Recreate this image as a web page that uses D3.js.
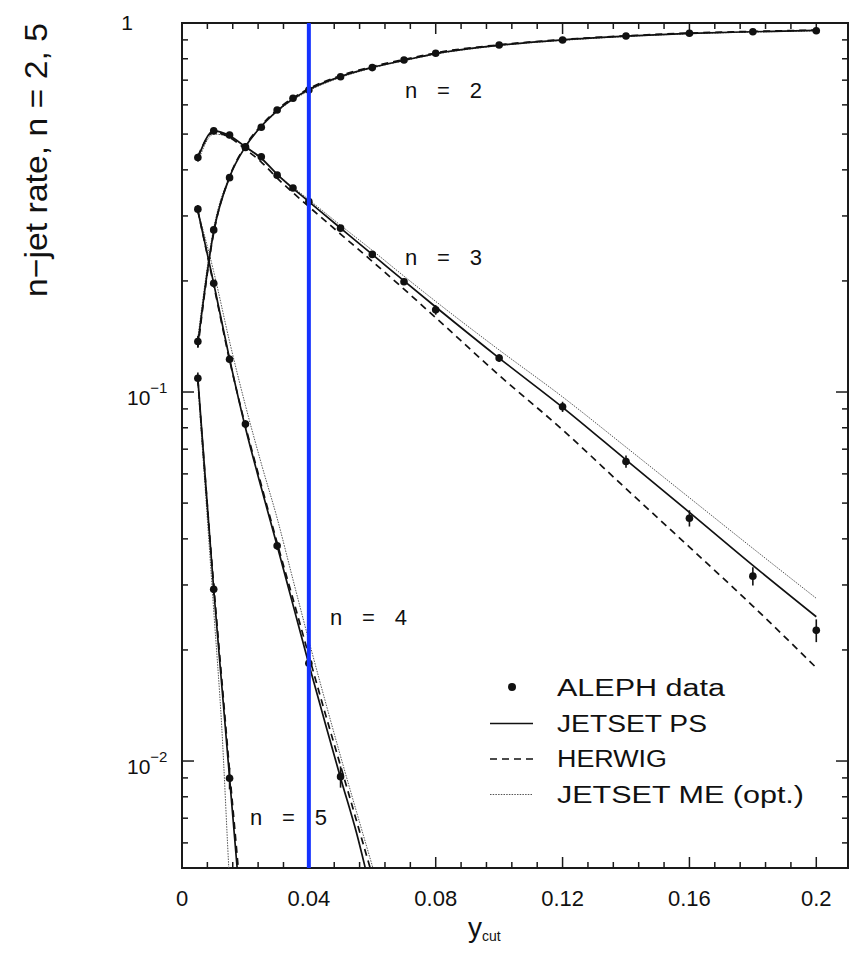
<!DOCTYPE html>
<head>
    <meta charset="utf-8">
    <script src="https://d3js.org/d3.v7.min.js"></script>
    <style>
        body {
            margin: 0;
            background: white;
            font-family: "Liberation Sans", Arial, sans-serif;
        }

        .frame {
            fill: none;
            stroke: #1a1a1a;
            stroke-width: 2px;
        }

        .tick-mark {
            stroke: #1a1a1a;
            stroke-width: 1.5px;
        }

        .model {
            fill: none;
        }

        .jetset-ps {
            stroke: #111;
            stroke-width: 1.7px;
        }

        .herwig {
            stroke: #111;
            stroke-width: 1.7px;
            stroke-dasharray: 7,5;
        }

        .jetset-me {
            stroke: #555;
            stroke-width: 1px;
            stroke-dasharray: 1.5,1.2;
        }

        .aleph {
            fill: #111;
        }

        .err {
            stroke: #111;
            stroke-width: 1.6px;
        }

        text {
            fill: #111;
        }
    </style>
</head>

<body>
<script>
    // ALEPH data points (y_cut, rate, error) for each jet multiplicity
    var xData23 = [0.005, 0.01, 0.015, 0.02, 0.025, 0.03, 0.035, 0.04, 0.05, 0.06, 0.07, 0.08, 0.1, 0.12, 0.14, 0.16, 0.18, 0.2];
    var aleph2 = [0.137, 0.275, 0.381, 0.46, 0.522, 0.581, 0.625, 0.658, 0.715, 0.757, 0.794, 0.828, 0.872, 0.899, 0.922, 0.938, 0.947, 0.953];
    var err2 = [0.005, 0.006, 0.006, 0.006, 0.006, 0.006, 0.006, 0.006, 0.006, 0.006, 0.006, 0.006, 0.006, 0.006, 0.006, 0.007, 0.008, 0.01];
    var aleph3 = [0.432, 0.51, 0.497, 0.462, 0.434, 0.387, 0.357, 0.328, 0.278, 0.236, 0.199, 0.167, 0.1236, 0.0912, 0.0648, 0.0455, 0.0317, 0.0226];
    var err3 = [0.01, 0.01, 0.01, 0.01, 0.008, 0.007, 0.006, 0.006, 0.005, 0.005, 0.004, 0.005, 0.003, 0.0029, 0.0025, 0.0023, 0.0018, 0.0016];

    var xData4 = [0.005, 0.01, 0.015, 0.02, 0.03, 0.04, 0.05];
    var aleph4 = [0.313, 0.197, 0.1227, 0.0819, 0.0383, 0.0184, 0.00907];
    var err4 = [0.008, 0.004, 0.003, 0.002, 0.001, 0.0006, 0.0006];

    var xData5 = [0.005, 0.01, 0.015];
    var aleph5 = [0.109, 0.0292, 0.00898];
    var err5 = [0.004, 0.001, 0.0006];

    // model curves
    var xModel23 = [0.005, 0.01, 0.015, 0.02, 0.025, 0.03, 0.04, 0.05, 0.06, 0.07, 0.08, 0.1, 0.12, 0.14, 0.16, 0.18, 0.2];
    var ps2 = [0.135, 0.272, 0.382, 0.462, 0.525, 0.578, 0.66, 0.716, 0.758, 0.792, 0.826, 0.87, 0.9, 0.921, 0.937, 0.947, 0.955];
    var hw2 = [0.132, 0.27, 0.383, 0.465, 0.528, 0.582, 0.664, 0.72, 0.762, 0.796, 0.83, 0.873, 0.902, 0.923, 0.939, 0.949, 0.957];
    var me2 = [0.14, 0.278, 0.385, 0.462, 0.522, 0.575, 0.655, 0.712, 0.755, 0.79, 0.823, 0.868, 0.897, 0.919, 0.935, 0.945, 0.952];
    var ps3 = [0.43, 0.51, 0.495, 0.462, 0.43, 0.389, 0.328, 0.278, 0.236, 0.2, 0.17, 0.1236, 0.0909, 0.0655, 0.0472, 0.0339, 0.0246];
    var hw3 = [0.435, 0.505, 0.49, 0.455, 0.42, 0.38, 0.318, 0.268, 0.226, 0.19, 0.159, 0.111, 0.079, 0.0547, 0.038, 0.0263, 0.0179];
    var me3 = [0.42, 0.5, 0.49, 0.46, 0.428, 0.39, 0.332, 0.283, 0.242, 0.206, 0.176, 0.13, 0.097, 0.0709, 0.0517, 0.0377, 0.0276];

    var xModel4 = [0.005, 0.01, 0.015, 0.02, 0.025, 0.03, 0.035, 0.04, 0.045, 0.05, 0.055, 0.06, 0.065];
    var ps4 = [0.31, 0.197, 0.123, 0.08, 0.055, 0.0383, 0.0265, 0.0183, 0.0128, 0.009, 0.0064, 0.0043, 0.003];
    var hw4 = [0.31, 0.195, 0.122, 0.081, 0.056, 0.039, 0.0275, 0.0193, 0.0136, 0.0097, 0.0069, 0.0049, 0.0035];
    var me4 = [0.31, 0.212, 0.137, 0.092, 0.064, 0.0455, 0.031, 0.0212, 0.0147, 0.0103, 0.0073, 0.0052, 0.0037];

    var xModel5 = [0.005, 0.0075, 0.01, 0.0125, 0.015, 0.0175, 0.02];
    var ps5 = [0.109, 0.056, 0.0292, 0.0162, 0.009, 0.005, 0.0027];
    var hw5 = [0.108, 0.056, 0.03, 0.0168, 0.0094, 0.0054, 0.003];
    var me5 = [0.105, 0.052, 0.0256, 0.0125, 0.0047, 0.0022, 0.0012];

    // axis ticks and labels
    var xTickLabels = [0, 0.04, 0.08, 0.12, 0.16, 0.2];
    var xLabelText = ["0", "0.04", "0.08", "0.12", "0.16", "0.2"];
    var yMajor = [1, 0.1, 0.01];
    var yLabelExp = ["", "\u22121", "\u22122"];

    var legendLabels = [
        {label: "ALEPH data", type: "dot", len: 168},
        {label: "JETSET PS", type: "jetset-ps", len: 150},
        {label: "HERWIG", type: "herwig", len: 110},
        {label: "JETSET ME (opt.)", type: "jetset-me", len: 247}
    ];

    var margin = {top: 23, right: 6, bottom: 87, left: 182};
    var width = 854 - margin.left - margin.right,
        height = 955 - margin.top - margin.bottom;

    var svg = d3.select("body").append("svg")
        .attr("width", 854)
        .attr("height", 955);

    var g = svg.append("g")
        .attr("transform", "translate(" + margin.left + "," + margin.top + ")");

    var x = d3.scaleLinear().domain([0, 0.21]).range([0, width]);
    var y = d3.scaleLog().domain([0.00513, 1]).range([height, 0]);

    g.append("clipPath").attr("id", "plot-clip")
        .append("rect").attr("width", width).attr("height", height);

    // ticks, drawn inward on all four sides
    var xMinor = d3.range(0, 26).map(function(i) { return i * 0.008; }).filter(function(d) { return d <= 0.21; });
    var yMinor = [];
    [0.001, 0.01, 0.1].forEach(function(dec) {
        for (var k = 2; k <= 9; k++) {
            var v = k * dec;
            if (v >= 0.00513 && v < 1) yMinor.push(v);
        }
    });

    function isMajorX(d) {
        return Math.abs(d / 0.04 - Math.round(d / 0.04)) < 1e-6;
    }

    var ticks = g.append("g").attr("class", "ticks");
    xMinor.forEach(function(d) {
        var len = isMajorX(d) ? 11 : 6;
        ticks.append("line").attr("class", "tick-mark")
            .attr("x1", x(d)).attr("x2", x(d)).attr("y1", height).attr("y2", height - len);
        ticks.append("line").attr("class", "tick-mark")
            .attr("x1", x(d)).attr("x2", x(d)).attr("y1", 0).attr("y2", len);
    });
    yMinor.concat(yMajor).forEach(function(d) {
        var len = yMajor.indexOf(d) >= 0 ? 12 : 6;
        ticks.append("line").attr("class", "tick-mark")
            .attr("x1", 0).attr("x2", len).attr("y1", y(d)).attr("y2", y(d));
        ticks.append("line").attr("class", "tick-mark")
            .attr("x1", width).attr("x2", width - len).attr("y1", y(d)).attr("y2", y(d));
    });

    g.append("rect").attr("class", "frame")
        .attr("width", width).attr("height", height);

    // x tick labels
    g.append("g").selectAll("text")
        .data(xTickLabels)
        .enter().append("text")
        .attr("x", function(d) { return x(d); })
        .attr("y", height + 38)
        .attr("text-anchor", "middle")
        .style("font-size", "22px")
        .text(function(d, i) { return xLabelText[i]; });

    // y tick labels with superscripts
    var yl = g.append("g");
    yMajor.forEach(function(d, i) {
        if (d === 1) {
            yl.append("text").attr("x", -49).attr("y", y(d) + 7)
                .attr("text-anchor", "end")
                .style("font-size", "21px").text("1");
        } else {
            var t = yl.append("text").attr("x", -55).attr("y", y(d) + 13)
                .style("font-size", "21px");
            t.append("tspan").text("10");
            t.append("tspan").attr("dy", -12).style("font-size", "15px").text(yLabelExp[i]);
        }
    });

    // axis titles
    var xt = svg.append("text").attr("x", 468).attr("y", 937);
    xt.append("tspan").style("font-size", "28px").text("y");
    xt.append("tspan").attr("dy", 4).style("font-size", "14px").text("cut");

    svg.append("text")
        .attr("transform", "translate(47,160) rotate(-90)")
        .attr("text-anchor", "middle")
        .attr("textLength", 274)
        .attr("lengthAdjust", "spacingAndGlyphs")
        .style("font-size", "32px")
        .text("n\u2212jet rate, n = 2, 5");

    // model curves
    var line = d3.line()
        .x(function(d) { return x(d[0]); })
        .y(function(d) { return y(d[1]); })
        .curve(d3.curveMonotoneX);

    var models = [
        {xs: xModel23, ys: me2, cls: "jetset-me"},
        {xs: xModel23, ys: me3, cls: "jetset-me"},
        {xs: xModel4, ys: me4, cls: "jetset-me"},
        {xs: xModel5, ys: me5, cls: "jetset-me"},
        {xs: xModel23, ys: hw2, cls: "herwig"},
        {xs: xModel23, ys: hw3, cls: "herwig"},
        {xs: xModel4, ys: hw4, cls: "herwig"},
        {xs: xModel5, ys: hw5, cls: "herwig"},
        {xs: xModel23, ys: ps2, cls: "jetset-ps"},
        {xs: xModel23, ys: ps3, cls: "jetset-ps"},
        {xs: xModel4, ys: ps4, cls: "jetset-ps"},
        {xs: xModel5, ys: ps5, cls: "jetset-ps"}
    ];

    var curves = g.append("g").attr("clip-path", "url(#plot-clip)");
    curves.selectAll("path")
        .data(models)
        .enter().append("path")
        .attr("class", function(d) { return "model " + d.cls; })
        .attr("d", function(d) { return line(d3.zip(d.xs, d.ys)); });

    // data points with error bars
    var points = [];
    [[xData23, aleph2, err2], [xData23, aleph3, err3], [xData4, aleph4, err4], [xData5, aleph5, err5]]
        .forEach(function(s) {
            s[0].forEach(function(xv, i) {
                points.push({x: xv, v: s[1][i], e: s[2][i]});
            });
        });

    var pts = curves.append("g");
    pts.selectAll("line")
        .data(points)
        .enter().append("line")
        .attr("class", "err")
        .attr("x1", function(d) { return x(d.x); })
        .attr("x2", function(d) { return x(d.x); })
        .attr("y1", function(d) { return y(d.v + d.e); })
        .attr("y2", function(d) { return y(d.v - d.e); });

    pts.selectAll("circle")
        .data(points)
        .enter().append("circle")
        .attr("class", "aleph")
        .attr("r", 3.8)
        .attr("cx", function(d) { return x(d.x); })
        .attr("cy", function(d) { return y(d.v); });

    // curve annotations
    var notes = [
        {t: "n = 2", x: 405, y: 98},
        {t: "n = 3", x: 405, y: 265},
        {t: "n = 4", x: 330, y: 625},
        {t: "n = 5", x: 250, y: 825}
    ];
    svg.append("g").selectAll("text")
        .data(notes)
        .enter().append("text")
        .attr("x", function(d) { return d.x; })
        .attr("y", function(d) { return d.y; })
        .attr("textLength", 77)
        .attr("lengthAdjust", "spacing")
        .style("font-size", "22px")
        .text(function(d) { return d.t; });

    // legend
    var legend = svg.append("g");
    legendLabels.forEach(function(d, i) {
        var ly = 688 + i * 35.5;
        if (d.type === "dot") {
            legend.append("circle").attr("class", "aleph")
                .attr("cx", 512).attr("cy", ly - 1).attr("r", 4);
        } else {
            legend.append("line").attr("class", "model " + d.type)
                .attr("x1", 490).attr("x2", 533).attr("y1", ly).attr("y2", ly);
        }
        legend.append("text")
            .attr("x", 557).attr("y", ly + 8)
            .attr("textLength", d.len)
            .attr("lengthAdjust", "spacingAndGlyphs")
            .style("font-size", "23px")
            .text(d.label);
    });

    // blue marker at y_cut = 0.04
    g.append("line")
        .attr("x1", x(0.04)).attr("x2", x(0.04))
        .attr("y1", 0).attr("y2", height)
        .attr("stroke", "#1432ff")
        .attr("stroke-width", 4);
</script>
</body>
</html>
